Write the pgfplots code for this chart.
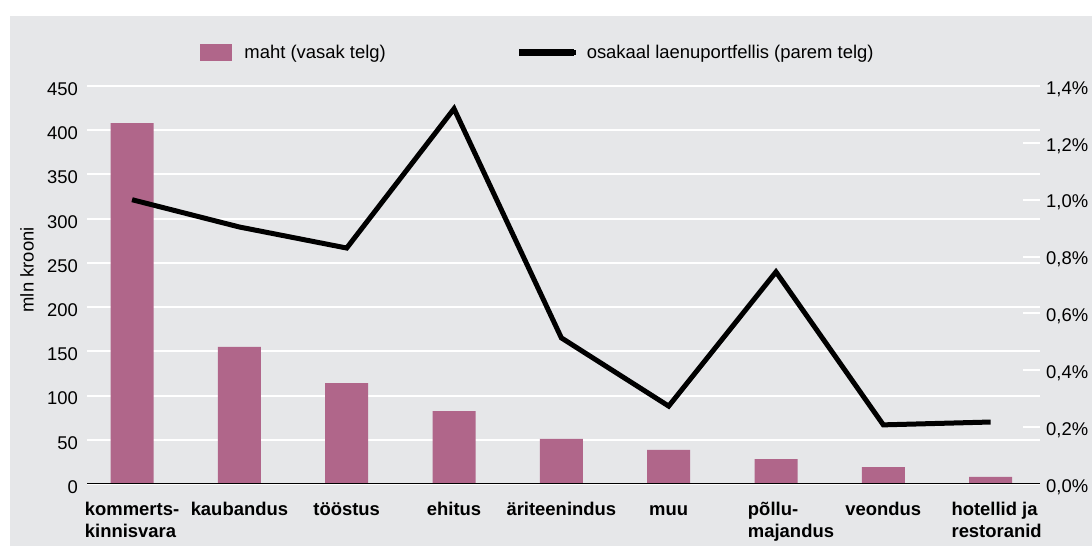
\documentclass[border=0pt]{standalone}
\usepackage{pgfplots}
\pgfplotsset{compat=1.18}
\usepackage{fontspec}
\setmainfont{Liberation Sans}
\definecolor{bgcol}{HTML}{E6E7E9}
\definecolor{barcol}{HTML}{B0668A}
\newcommand{\fs}{\fontsize{18.5}{22}\selectfont}
\begin{document}
\begin{tikzpicture}
\path[use as bounding box] (0,0) rectangle (1092bp,546bp);
\fill[bgcol] (10bp,0) rectangle (1092bp,530bp);
\begin{axis}[
 scale only axis, width=953bp, height=398bp, at={(87bp,62bp)}, anchor=south west,
 xmin=-0.42, xmax=8.46, ymin=0, ymax=450,
 ybar, bar width=43bp,
 axis line style={draw=none},
 xtick={0,1,2,3,4,5,6,7,8},
 xticklabels={{\strut kommerts-\\kinnisvara},\strut kaubandus,\strut tööstus,\strut ehitus,\strut äriteenindus,\strut muu,{\hspace*{30bp}\strut põllu-\\\hspace*{30bp}majandus},\strut veondus,{\hspace*{12bp}\strut hotellid ja\\\hspace*{12bp}restoranid}},
 ytick={0,50,100,150,200,250,300,350,400,450},
 ymajorgrids, grid style={white, line width=2bp},
 major tick length=0pt,
 /pgf/number format/assume math mode=true,
 tick label style={font=\fs},
 yticklabel style={anchor=east, inner sep=0pt, xshift=-9bp, yshift=-3bp},
 xticklabel style={font=\fs\bfseries, align=left, anchor=north, inner sep=0pt, yshift=-16bp},
 ylabel={mln krooni}, ylabel style={font=\fs, at={(axis description cs:-0.063,0.538)}, anchor=center},
]
\addplot[fill=barcol, draw=none] coordinates {(0,408) (1,155) (2,114) (3,82.5) (4,51) (5,38.5) (6,28) (7,19) (8,8)};
\end{axis}
\begin{axis}[
 scale only axis, width=953bp, height=398bp, at={(87bp,62bp)}, anchor=south west,
 xmin=-0.42, xmax=8.46, ymin=0, ymax=1.4,
 axis x line=none, axis y line*=right, axis line style={draw=none},
 ytick={0,0.2,0.4,0.6,0.8,1.0,1.2,1.4},
 /pgf/number format/assume math mode=true,
 yticklabel={\pgfmathprintnumber[fixed,fixed zerofill,precision=1,use comma]{\tick}\%},
 ytick style={white, line width=2bp}, major tick length=17bp, tick align=inside,
 tick label style={font=\fs},
 yticklabel style={anchor=west, inner sep=0pt, xshift=6bp, yshift=-3bp},
 legend columns=2,
 legend cell align=left,
 legend style={draw=none, fill=none, font=\fs, inner sep=0pt, outer sep=0pt,
   at={(0.1186,1.085)}, anchor=west,
   /tikz/every odd column/.append style={column sep=11bp},
   /tikz/every even column/.append style={column sep=131bp}},
]
\draw[black, line width=2bp] (rel axis cs:0,0) -- (rel axis cs:1,0);
\addlegendimage{legend image code/.code={\fill[barcol] (0bp,-8bp) rectangle (31bp,8bp);}}
\addlegendentry{maht (vasak telg)}
\addplot[black, line width=5bp, mark=none,
  legend image code/.code={\path[use as bounding box] (0bp,-1bp) rectangle (50bp,1bp);\draw[black,line width=5bp] (0bp,0bp) -- (55bp,0bp);}]
  coordinates {(0,1.0) (1,0.904) (2,0.83) (3,1.32) (4,0.514) (5,0.274) (6,0.746) (7,0.208) (8,0.218)};
\addlegendentry{osakaal laenuportfellis (parem telg)}
\end{axis}
\end{tikzpicture}
\end{document}
